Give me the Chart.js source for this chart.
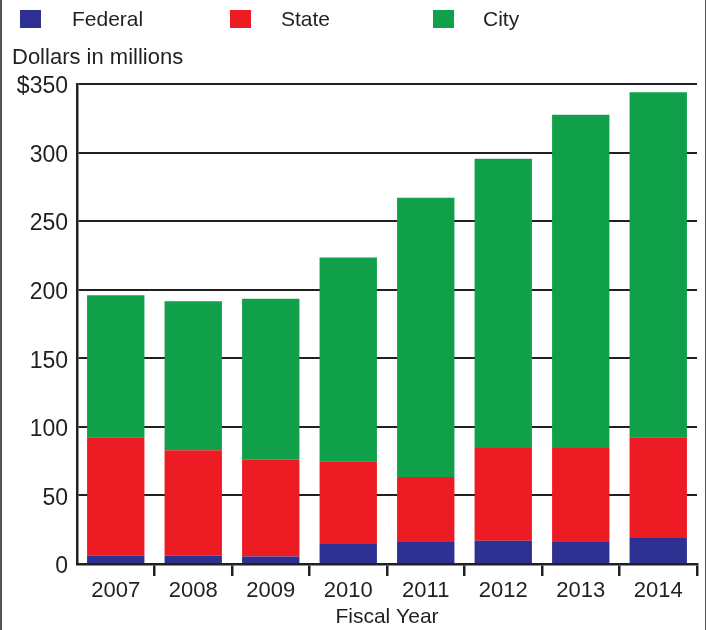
<!DOCTYPE html>
<html>
<head>
<meta charset="utf-8">
<script src="https://cdn.jsdelivr.net/npm/chart.js@4"></script>
<style>
  body { margin: 0; background: #fff; }
  #wrap { position: relative; width: 707px; height: 630px; }
  #wrap::before, #wrap::after {
    content: ''; position: absolute; top: 0; bottom: 0; width: 1.5px; background: #555;
  }
  #wrap::before { left: 0; }
  #wrap::after { left: 704.5px; }
</style>
</head>
<body>
<div id="wrap"><canvas id="chart"></canvas></div>
<script>
const years = ['2007', '2008', '2009', '2010', '2011', '2012', '2013', '2014'];
const federal = [6, 6, 5.5, 14.5, 16, 17, 16, 19];
const state = [86.5, 77, 70.5, 60.5, 47.5, 67.5, 68.5, 73.5];
const city = [103.5, 108.5, 117.5, 148.5, 203.5, 211, 243, 251.5];
const yTickLabels = ['0', '50', '100', '150', '200', '250', '300', '$350'];

const ink = '#231f20';
const fontFamily = '"Liberation Sans", Arial, sans-serif';

// legend row + horizontal y title, drawn above the plot
const headerPlugin = {
  id: 'header',
  afterDraw(chart) {
    const ctx = chart.ctx;
    const spots = [
      { box: 20, text: 72 },
      { box: 230, text: 281 },
      { box: 433, text: 483 }
    ];
    ctx.save();
    ctx.font = '21px ' + fontFamily;
    ctx.textBaseline = 'middle';
    chart.data.datasets.forEach((ds, i) => {
      ctx.fillStyle = ds.backgroundColor;
      ctx.fillRect(spots[i].box, 10, 21, 18);
      ctx.fillStyle = ink;
      ctx.fillText(ds.label, spots[i].text, 20);
    });
    ctx.font = '22px ' + fontFamily;
    ctx.textBaseline = 'alphabetic';
    ctx.fillText('Dollars in millions', 12, 64);
    ctx.restore();
  }
};

new Chart(document.getElementById('chart'), {
  type: 'bar',
  data: {
    labels: years,
    datasets: [
      { label: 'Federal', data: federal, backgroundColor: '#2e3192' },
      { label: 'State', data: state, backgroundColor: '#ed1c24' },
      { label: 'City', data: city, backgroundColor: '#10a04a' }
    ]
  },
  options: {
    responsive: true,
    maintainAspectRatio: false,
    animation: false,
    barPercentage: 0.74,
    categoryPercentage: 1,
    layout: { padding: { left: 0, right: 10, top: 84, bottom: 0 } },
    plugins: {
      legend: { display: false },
      tooltip: { enabled: false }
    },
    scales: {
      x: {
        stacked: true,
        afterFit: (s) => { s.height = 66; },
        grid: {
          offset: true,
          drawOnChartArea: false,
          drawTicks: true,
          tickLength: 12,
          lineWidth: 2.5,
          color: (c) => c.index === 0 ? 'rgba(0,0,0,0)' : ink
        },
        border: { display: true, color: ink, width: 2.5 },
        ticks: { color: ink, padding: 2, font: { family: fontFamily, size: 22 } },
        title: {
          display: true,
          text: 'Fiscal Year',
          color: ink,
          padding: { top: 0, bottom: 0 },
          font: { family: fontFamily, size: 21 }
        }
      },
      y: {
        stacked: true,
        min: 0,
        max: 350,
        afterFit: (s) => { s.width = 77; },
        grid: { color: ink, lineWidth: 2, drawTicks: false },
        border: { display: true, color: ink, width: 2.5 },
        ticks: {
          stepSize: 50,
          color: ink,
          padding: 9,
          labelOffset: 3,
          font: { family: fontFamily, size: 23 },
          callback: (v, i) => yTickLabels[i]
        }
      }
    }
  },
  plugins: [headerPlugin]
});
</script>
</body>
</html>
